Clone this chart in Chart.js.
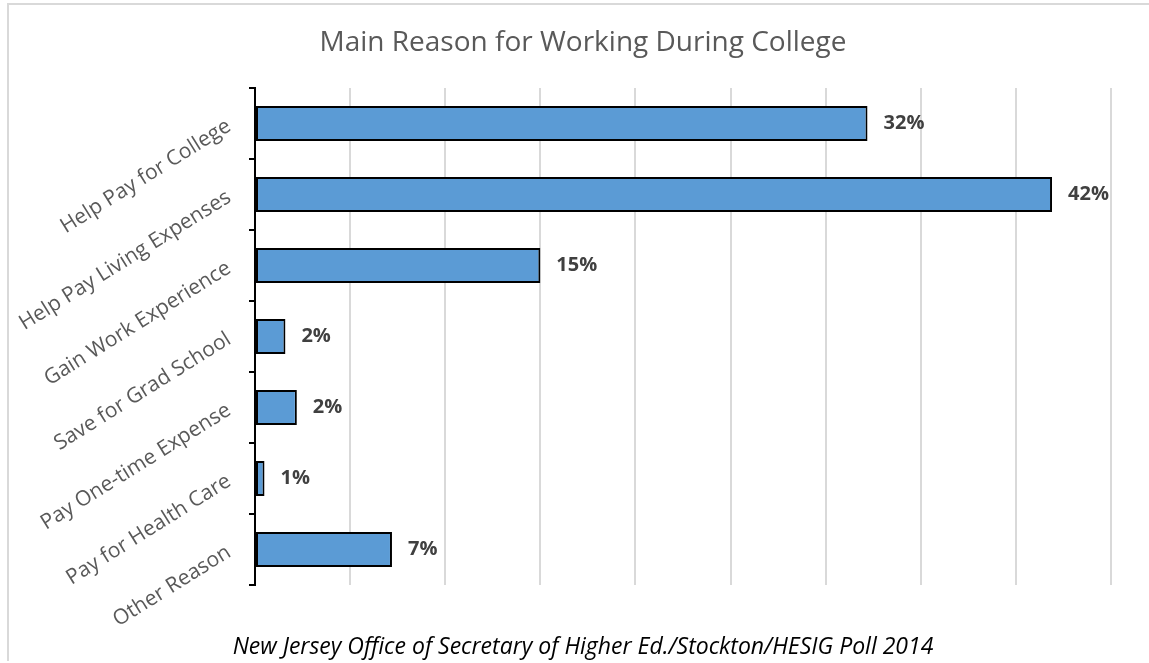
<!DOCTYPE html>
<html>
<head>
<meta charset="utf-8">
<script src="https://cdn.jsdelivr.net/npm/chart.js@4/dist/chart.umd.min.js"></script>
<style>
	html, body { margin: 0; padding: 0; background: #fff; }
	#wrap { position: relative; width: 1149px; height: 663px; overflow: hidden; }
	#frame {
		position: absolute; left: 7px; top: 3px; right: -10px; bottom: 2px;
		border-left: 2px solid #d9d9d9; border-top: 2px solid #d9d9d9;
	}
	canvas { position: absolute; left: 0; top: 0; }
</style>
</head>
<body>
<div id="wrap">
	<div id="frame"></div>
	<canvas id="myChart" width="1149" height="663"></canvas>
</div>
<script>
const reasons = [
	'Help Pay for College',
	'Help Pay Living Expenses',
	'Gain Work Experience',
	'Save for Grad School',
	'Pay One-time Expense',
	'Pay for Health Care',
	'Other Reason'
];
const shares = [32.2, 41.9, 15.0, 1.6, 2.2, 0.5, 7.2];
const axisMax = 45;
const axisStep = 5;

const chartTitle = 'Main Reason for Working During College';
const sourceNote = 'New Jersey Office of Secretary of Higher Ed./Stockton/HESIG Poll 2014';

// title and source line, centred on the framed area rather than the canvas
const headings = {
	id: 'headings',
	afterDraw(chart) {
		const ctx = chart.ctx;
		const cx = 583;
		ctx.save();
		ctx.textAlign = 'center';
		ctx.textBaseline = 'middle';
		ctx.fillStyle = '#595959';
		ctx.font = '28px "Open Sans"';
		ctx.fillText(chartTitle, cx, 43);
		ctx.fillStyle = '#000';
		ctx.font = 'italic 23px "Open Sans"';
		ctx.fillText(sourceNote, cx, 647);
		ctx.restore();
	}
};

// percent labels just past the end of each bar
const barLabels = {
	id: 'barLabels',
	afterDatasetsDraw(chart) {
		const ctx = chart.ctx;
		const meta = chart.getDatasetMeta(0);
		ctx.save();
		ctx.font = 'bold 20px "Open Sans"';
		ctx.fillStyle = '#404040';
		ctx.textAlign = 'left';
		ctx.textBaseline = 'middle';
		meta.data.forEach((bar, i) => {
			const v = chart.data.datasets[0].data[i];
			ctx.fillText(Math.round(v) + '%', bar.x + 16, bar.y);
		});
		ctx.restore();
	}
};

new Chart(document.getElementById('myChart'), {
	type: 'bar',
	data: {
		labels: reasons,
		datasets: [
			{
				data: shares,
				backgroundColor: '#5b9bd5',
				borderColor: '#000',
				borderWidth: 2,
				borderSkipped: false,
				barPercentage: 0.49,
				categoryPercentage: 1
			}
		]
	},
	options: {
		indexAxis: 'y',
		responsive: false,
		animation: false,
		layout: { padding: { left: 0, right: 38, top: 88, bottom: 78 } },
		plugins: {
			legend: { display: false },
			tooltip: { enabled: false },
			title: { display: false }
		},
		scales: {
			x: {
				min: 0,
				max: axisMax,
				ticks: { display: false, stepSize: axisStep },
				grid: { color: '#d9d9d9', lineWidth: 2, drawTicks: false },
				border: { display: false }
			},
			y: {
				afterFit(scale) {
					scale.width = 255;
				},
				ticks: {
					color: '#595959',
					font: { family: 'Open Sans', size: 21 },
					minRotation: 32,
					maxRotation: 32,
					padding: 20,
					labelOffset: 1
				},
				grid: {
					drawOnChartArea: false,
					color: '#000',
					lineWidth: 2,
					tickLength: 6
				},
				border: { display: true, color: '#000', width: 2 }
			}
		}
	},
	plugins: [barLabels, headings]
});
</script>
</body>
</html>
